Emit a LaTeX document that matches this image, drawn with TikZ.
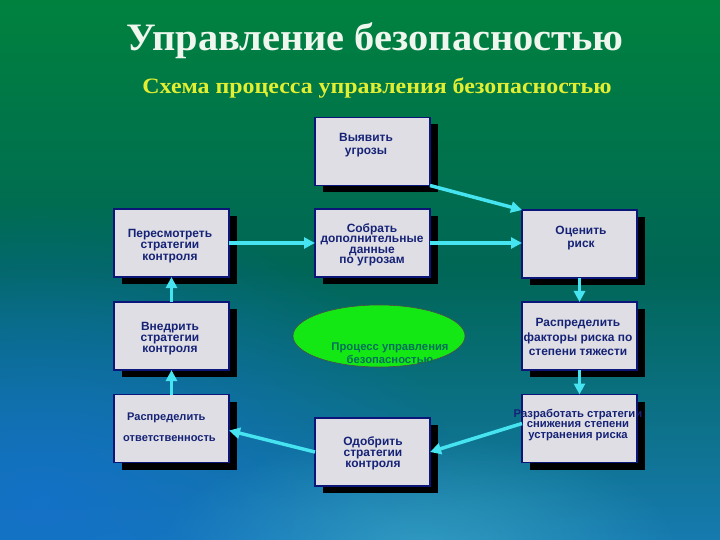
\documentclass[tikz,border=0pt]{standalone}
\usepackage{fontspec}
\setmainfont{Liberation Serif}
\newfontfamily\boxfont{Liberation Sans}
\usetikzlibrary{arrows.meta,shapes.geometric,shadows,calc,fadings}
\definecolor{bgtop}{RGB}{0,130,62}
\definecolor{bgmid}{RGB}{0,102,86}
\definecolor{bgbot}{RGB}{22,122,176}
\definecolor{lowblue}{RGB}{20,112,205}
\definecolor{lowcyan}{RGB}{70,180,205}
\definecolor{boxfill}{RGB}{222,222,228}
\definecolor{boxline}{RGB}{12,22,120}
\definecolor{boxtext}{RGB}{22,34,118}
\definecolor{arrowcyan}{RGB}{70,228,240}
\definecolor{ellfill}{RGB}{20,232,20}
\definecolor{elltext}{RGB}{0,112,92}
\definecolor{titlecol}{RGB}{238,246,238}
\definecolor{subcol}{RGB}{226,238,50}
\tikzfading[name=softspot, inner color=transparent!0, outer color=transparent!100]
\tikzset{
  stepbox/.style={draw=boxline, line width=1.2bp, fill=boxfill, minimum width=115bp, minimum height=68bp, inner sep=0pt, outer sep=0pt,
    drop shadow={shadow xshift=8bp, shadow yshift=-7bp, fill=black, opacity=1}},
  boxtxt/.style={text=boxtext, align=center, inner sep=0pt},
  flow/.style={draw=arrowcyan, line width=3.5bp, -{Triangle[length=11bp,width=11bp]}}
}
\begin{document}
\begin{tikzpicture}[x=1bp,y=-1bp]
\useasboundingbox (0,0) rectangle (720,540);
\shade[top color=bgtop, bottom color=bgbot, middle color=bgmid] (0,0) rectangle (720,540);
\begin{scope}
\clip (0,0) rectangle (720,540);
\fill[lowblue, path fading=softspot, fill opacity=0.85] (40,500) ellipse [x radius=420, y radius=300];
\fill[lowcyan, path fading=softspot, fill opacity=0.55] (420,545) ellipse [x radius=260, y radius=110];
\end{scope}

% title
\node[anchor=base, font=\bfseries\fontsize{39}{42}\selectfont, text=titlecol, inner sep=0pt] (title) at (375,51) {\scalebox{1.04}[1]{Управление безопасностью}};
\node[anchor=base, font=\bfseries\fontsize{22}{24}\selectfont, text=subcol, inner sep=0pt] (subtitle) at (377,94) {\scalebox{1.09}[1]{Схема процесса управления безопасностью}};

% boxes
\node[stepbox] (find) at (372.5,151.5) {};
\node[stepbox] (collect) at (372.5,243) {};
\node[stepbox] (assess) at (579.5,244) {};
\node[stepbox] (review) at (171.5,243) {};
\node[stepbox] (impl) at (171.5,336) {};
\node[stepbox] (factors) at (579.5,336) {};
\node[stepbox] (resp) at (171.5,428.5) {};
\node[stepbox] (approve) at (372.5,452) {};
\node[stepbox] (dev) at (579.5,428.5) {};

% ellipse
\node[ellipse, draw=black!70, line width=0.6bp, fill=ellfill, minimum width=172bp, minimum height=62bp, inner sep=0pt] (proc) at (379,336) {};

% texts
\node[boxtxt, font=\boxfont\bfseries\fontsize{12}{13}\selectfont] (tfind) at (366,145) {Выявить\\угрозы};
\node[boxtxt, font=\boxfont\bfseries\fontsize{12}{10.5}\selectfont] (tcollect) at (372,245) {Собрать\\дополнительные\\данные\\по угрозам};
\node[boxtxt, font=\boxfont\bfseries\fontsize{12}{13}\selectfont] (tassess) at (581,238) {Оценить\\риск};
\node[boxtxt, font=\boxfont\bfseries\fontsize{12}{15}\selectfont] (tfactors) at (578,337) {Распределить\\факторы риска по\\степени тяжести};
\node[boxtxt, font=\boxfont\bfseries\fontsize{12}{11.5}\selectfont] (treview) at (170,246) {Пересмотреть\\стратегии\\контроля};
\node[boxtxt, font=\boxfont\bfseries\fontsize{12}{11}\selectfont] (timpl) at (170,339) {Внедрить\\стратегии\\контроля};
\node[boxtxt, font=\boxfont\bfseries\fontsize{12}{11}\selectfont] (tapprove) at (373,453) {Одобрить\\стратегии\\контроля};
\node[boxtxt, font=\boxfont\bfseries\fontsize{11.3}{11}\selectfont] (tdev) at (578,425) {Разработать стратегии\\снижения степени\\устранения риска};
\node[boxtxt, anchor=west, font=\boxfont\bfseries\fontsize{11.1}{11}\selectfont] (tresp1) at (127,418) {Распределить};
\node[boxtxt, anchor=west, font=\boxfont\bfseries\fontsize{11.1}{11}\selectfont] (tresp2) at (123,439) {ответственность};
\node[font=\boxfont\bfseries\fontsize{11.3}{13}\selectfont, text=elltext, align=center, inner sep=0pt] (tproc) at (390,353) {Процесс управления\\безопасностью};

% connectors
\draw[flow] (find.south east) -- (assess.north west);
\draw[flow] (collect.east) -- (collect.east -| assess.west);
\draw[flow] (review.east) -- (review.east -| collect.west);
\draw[flow] (assess.south) -- (factors.north);
\draw[flow] (factors.south) -- (dev.north);
\draw[flow] ($(dev.west)+(0,-5)$) -- (approve.east);
\draw[flow] (approve.west) -- ($(resp.east)+(0,2)$);
\draw[flow] (resp.north) -- (impl.south);
\draw[flow] (impl.north) -- (review.south);
\end{tikzpicture}
\end{document}
